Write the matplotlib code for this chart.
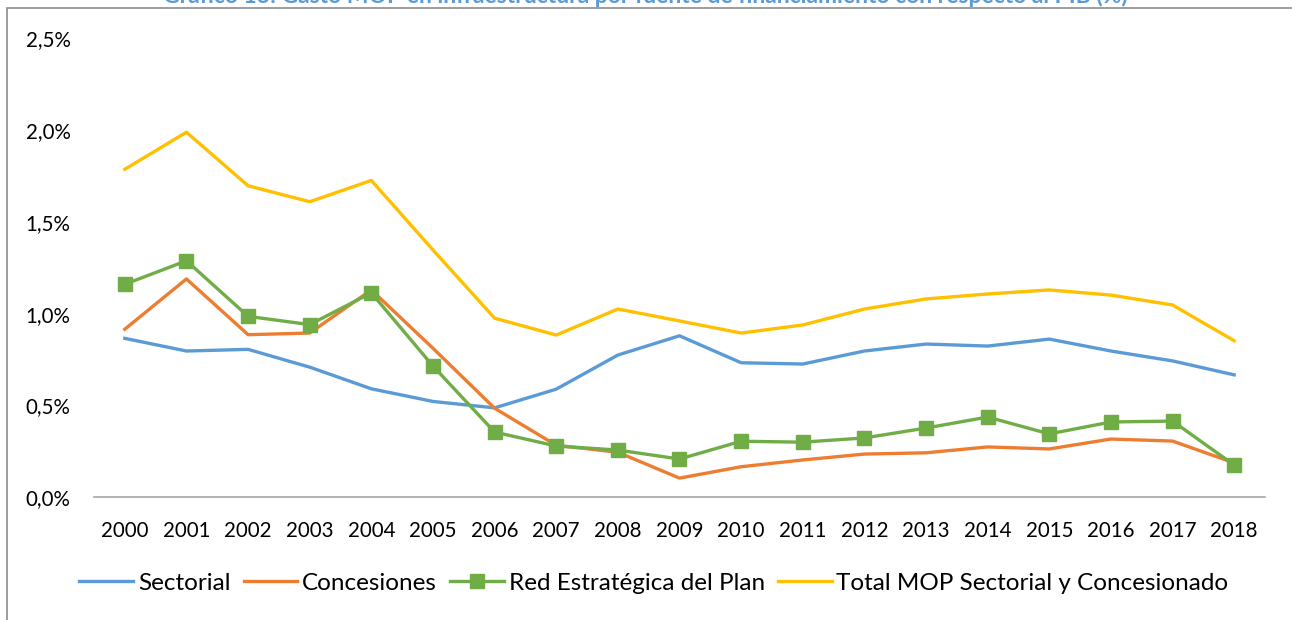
import matplotlib
matplotlib.use("Agg")
import matplotlib.pyplot as plt
from matplotlib.patches import Rectangle
from matplotlib.ticker import FuncFormatter

plt.rcParams['font.family'] = ['Lato', 'DejaVu Sans']

years = [str(y) for y in range(2000, 2019)]
sectorial = [0.865, 0.796, 0.805, 0.708, 0.590, 0.521, 0.486, 0.588, 0.774, 0.879,
             0.732, 0.725, 0.796, 0.834, 0.823, 0.861, 0.796, 0.742, 0.666]
concesiones = [0.915, 1.189, 0.885, 0.894, 1.129, 0.811, 0.484, 0.282, 0.244, 0.103,
               0.165, 0.202, 0.234, 0.241, 0.273, 0.262, 0.316, 0.305, 0.186]
red_estrategica = [1.160, 1.288, 0.985, 0.940, 1.113, 0.714, 0.354, 0.278, 0.256, 0.207,
                   0.304, 0.299, 0.322, 0.376, 0.436, 0.344, 0.409, 0.414, 0.174]
total_mop = [1.787, 1.989, 1.697, 1.610, 1.726, 1.347, 0.975, 0.883, 1.025, 0.960,
             0.894, 0.938, 1.025, 1.080, 1.107, 1.129, 1.101, 1.047, 0.852]

series_names = ["Sectorial", "Concesiones", "Red Estratégica del Plan",
                "Total MOP Sectorial y Concesionado"]
title_text = ("Gráfico 13: Gasto MOP en infraestructura por fuente de "
              "financiamiento con respecto al PIB (%)")

fig = plt.figure(figsize=(12.92, 6.20), dpi=100)
W, H = 1292, 620

# chart border
fig.patches.append(Rectangle((7 / W, -0.1), 1.2, (H - 8) / H + 0.1,
                             transform=fig.transFigure, fill=False,
                             edgecolor="#8c8c8c", linewidth=1.2, zorder=0))

# title, partly cut by the top edge
fig.text(645 / W, 1 + 4 / H, title_text, ha="center", va="center",
         fontsize=16.5, fontweight="bold", color="#5B9BD5")

ax = fig.add_axes([94 / W, (H - 497) / H, (1265 - 94) / W, (497 - 38.5) / H])
x = range(len(years))
ax.plot(x, sectorial, color="#5B9BD5", lw=2.4, label=series_names[0],
        solid_joinstyle="round", zorder=3)
ax.plot(x, concesiones, color="#ED7D31", lw=2.4, label=series_names[1],
        solid_joinstyle="round", zorder=3)
ax.plot(x, red_estrategica, color="#70AD47", lw=2.4, marker="s", markersize=10,
        label=series_names[2], solid_joinstyle="round", zorder=4)
ax.plot(x, total_mop, color="#FFC000", lw=2.4, label=series_names[3],
        solid_joinstyle="round", zorder=3)

ax.set_xlim(-0.5, len(years) - 0.5)
ax.set_ylim(0, 2.5)
ax.set_yticks([0, 0.5, 1.0, 1.5, 2.0, 2.5])
ax.yaxis.set_major_formatter(FuncFormatter(lambda v, p: f"{v:.1f}%".replace(".", ",")))
ax.set_xticks(list(x))
ax.set_xticklabels(years)
ax.tick_params(axis="both", length=0, labelsize=14.8, colors="#000000")
ax.tick_params(axis="x", pad=17)
ax.tick_params(axis="y", pad=17)

for s in ["top", "right", "left"]:
    ax.spines[s].set_visible(False)
ax.spines["bottom"].set_color("#a6a6a6")
ax.spines["bottom"].set_linewidth(1.2)

leg = fig.legend(loc="center", bbox_to_anchor=(654 / W, (H - 583) / H), ncol=4,
                 frameon=False, fontsize=17.5, handlelength=2.2, handletextpad=0.2,
                 columnspacing=0.55)

fig.savefig("out.png", dpi=100)
